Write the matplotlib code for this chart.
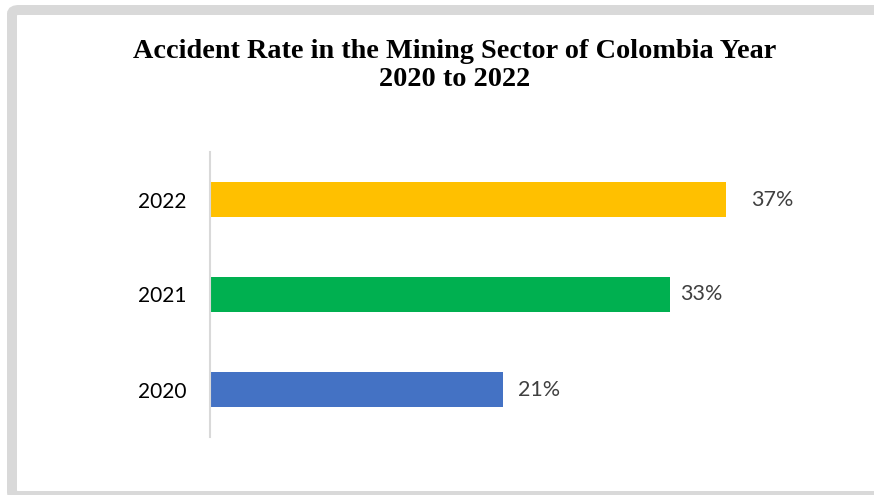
import matplotlib
matplotlib.use("Agg")
import matplotlib.pyplot as plt
from matplotlib.patches import FancyBboxPatch

years = ["2020", "2021", "2022"]
rates = [21, 33, 37]
colors = ["#4472C4", "#00B050", "#FFC000"]
label_offsets = [15, 10, 25]  # pixel gap between bar end and label

W, H = 874, 495
fig = plt.figure(figsize=(W / 100, H / 100), dpi=100)

# grey frame
frame = FancyBboxPatch((12 / W, -1 / H), 1.2, (H - 10 + 1) / H,
                       boxstyle="round,pad=0,rounding_size=0.008",
                       transform=fig.transFigure, facecolor="white",
                       edgecolor="#D9D9D9", linewidth=7.2, zorder=0)
fig.patches.append(frame)

ax = fig.add_axes([210 / W, (H - 437) / H, (768 - 210) / W, (437 - 152) / H])
ax.set_zorder(2)
ax.patch.set_alpha(0)
y = list(range(len(years)))
bars = ax.barh(y, rates, height=0.36, color=colors)
ax.set_xlim(0, 40)
ax.set_ylim(-0.5, 2.5)
ax.set_yticks(y)
ax.set_yticklabels(years, fontsize=15, family="Lato", color="black")
ax.tick_params(axis="y", length=0, pad=17)
ax.set_xticks([])
for s in ["top", "right", "bottom"]:
    ax.spines[s].set_visible(False)
ax.spines["left"].set_color("#D9D9D9")
ax.spines["left"].set_linewidth(1.5)

for yi, r, off in zip(y, rates, label_offsets):
    ax.annotate(f"{r}%", (r, yi), xytext=(off * 0.72, 0), textcoords="offset points",
                ha="left", va="center", fontsize=15.5, family="Lato", color="#404040")

t1 = fig.text(455 / W, 1 - 51 / H, "Accident Rate in the Mining Sector of Colombia Year",
              ha="center", va="center", fontsize=20.3, fontweight="bold",
              family="Liberation Serif", zorder=3)
t2 = fig.text(455 / W, 1 - 80 / H, "2020 to 2022",
              ha="center", va="center", fontsize=20.3, fontweight="bold",
              family="Liberation Serif", zorder=3)

fig.savefig("out.png", dpi=100)
